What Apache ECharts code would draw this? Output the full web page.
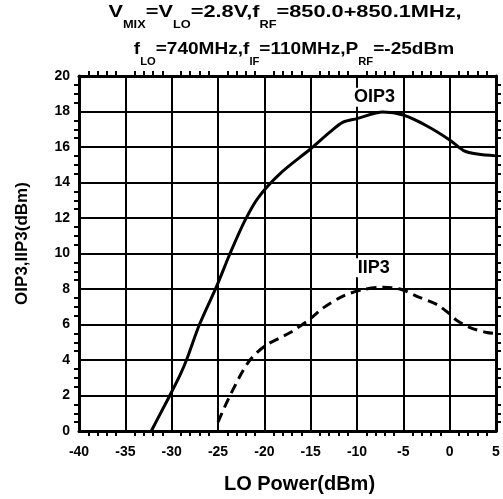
<!DOCTYPE html>
<html>
<head>
<meta charset="utf-8">
<script src="https://cdn.jsdelivr.net/npm/echarts@6/dist/echarts.min.js"></script>
<style>html,body{margin:0;padding:0;background:#fff}#c{width:503px;height:499px}</style>
</head>
<body>
<div id="c"></div>
<script>
// X axis: LO power (dBm)
var xTicks = [-40, -35, -30, -25, -20, -15, -10, -5, 0, 5];
var yTicks = [0, 2, 4, 6, 8, 10, 12, 14, 16, 18, 20];

var oip3X = [-32.2, -31.0, -30.2, -29.1, -28.4, -27.0, -25.15, -23.7, -22.1, -20.65, -18.3, -15.0, -12.9, -11.5, -10.0, -7.2, -5.0, -2.5, 0.0, 1.5, 3.0, 5.0];
var oip3Y = [0.0, 1.2, 2.0, 3.15, 4.0, 6.0, 8.15, 10.0, 11.85, 13.15, 14.5, 15.9, 16.85, 17.4, 17.6, 17.97, 17.8, 17.2, 16.4, 15.8, 15.6, 15.5];

var iip3X = [-25.0, -23.7, -21.7, -19.9, -17.2, -15.1, -13.6, -11.5, -9.5, -7.2, -5.2, -3.6, -1.4, 0.0, 0.7, 2.2, 4.0, 5.0];
var iip3Y = [0.5, 2.0, 3.9, 4.8, 5.55, 6.3, 6.95, 7.6, 7.95, 8.1, 7.97, 7.6, 7.13, 6.6, 6.26, 5.83, 5.55, 5.5];

var seriesNames = ['OIP3', 'IIP3'];
var seriesLabelPos = [[-8.1, 18.8], [-8.2, 9.2]];

function pairs(xs, ys) { return xs.map(function (x, i) { return [x, ys[i]]; }); }

var FONT = 'Liberation Sans, Arial, sans-serif';
var chart = echarts.init(document.getElementById('c'), null, { renderer: 'canvas' });

function axisCommon(showLabel) {
  return {
    axisLine: { show: true, onZero: false, lineStyle: { color: '#000', width: 3 } },
    axisTick: { show: false },
    minorTick: { show: true, inside: true, length: 5, lineStyle: { color: '#000', width: 2 } },
    axisLabel: { show: showLabel, color: '#000', fontWeight: 'bold', fontSize: 14, fontFamily: FONT },
    splitLine: { show: showLabel, lineStyle: { color: '#000', width: 2 } }
  };
}

var xMain = Object.assign(axisCommon(true), {
  type: 'value', position: 'bottom', min: xTicks[0], max: xTicks[xTicks.length - 1], interval: 5,
  name: 'LO Power(dBm)', nameLocation: 'middle', nameGap: 43,
  nameTextStyle: { color: '#000', fontWeight: 'bold', fontSize: 20, fontFamily: FONT, padding: [0, 0, 0, 24] }
});
xMain.minorTick.splitNumber = 5;
xMain.axisLabel.margin = 14;
var xTop = Object.assign(axisCommon(false), {
  type: 'value', position: 'top', min: xTicks[0], max: xTicks[xTicks.length - 1], interval: 5
});
xTop.minorTick.splitNumber = 5;

var yMain = Object.assign(axisCommon(true), {
  type: 'value', position: 'left', min: yTicks[0], max: yTicks[yTicks.length - 1], interval: 2,
  name: 'OIP3,IIP3(dBm)', nameLocation: 'middle', nameGap: 48,
  nameTextStyle: { color: '#000', fontWeight: 'bold', fontSize: 17, fontFamily: FONT, padding: [0, 0, 0, 20] }
});
yMain.minorTick.splitNumber = 4;
yMain.axisLabel.margin = 9;
var yRight = Object.assign(axisCommon(false), {
  type: 'value', position: 'right', min: yTicks[0], max: yTicks[yTicks.length - 1], interval: 2
});
yRight.minorTick.splitNumber = 4;

var titleRich = {
  m: { fontSize: 17, fontWeight: 'bold', fontFamily: FONT, fill: '#000', lineHeight: 36, verticalAlign: 'middle' },
  s: { fontSize: 10, fontWeight: 'bold', fontFamily: FONT, fill: '#000', lineHeight: 36, verticalAlign: 'bottom' }
};

function markFor(i) {
  return {
    symbol: 'rect',
    symbolSize: 1,
    silent: true,
    itemStyle: { color: 'rgba(0,0,0,0)' },
    label: {
      show: true, position: 'inside', formatter: seriesNames[i], color: '#000',
      fontWeight: 'bold', fontSize: 18, fontFamily: FONT,
      backgroundColor: '#fff', padding: [1, 2, 0, 2]
    },
    data: [{ coord: seriesLabelPos[i], value: seriesNames[i] }]
  };
}

chart.setOption({
  animation: false,
  backgroundColor: '#fff',
  grid: { left: 79, right: 7, top: 76, bottom: 62, containLabel: false },
  xAxis: [xMain, xTop],
  yAxis: [yMain, yRight],
  graphic: [
    {
      type: 'text', x: 285, y: -6, scaleX: 1.28, originX: 0, originY: 0,
      style: {
        text: '{m|V}{s|MIX}{m|=V}{s|LO}{m|=2.8V,f}{s|RF}{m|=850.0+850.1MHz,}',
        align: 'center', verticalAlign: 'top', rich: titleRich
      }
    },
    {
      type: 'text', x: 294, y: 31, scaleX: 1.12, originX: 0, originY: 0,
      style: {
        text: '{m|f}{s|LO}{m|=740MHz,f}{s|IF}{m|=110MHz,P}{s|RF}{m|=-25dBm}',
        align: 'center', verticalAlign: 'top', rich: titleRich
      }
    }
  ],
  series: [
    {
      name: seriesNames[0], type: 'line', xAxisIndex: 0, yAxisIndex: 0,
      data: pairs(oip3X, oip3Y), showSymbol: false, smooth: 0.3,
      lineStyle: { color: '#000', width: 3 },
      markPoint: markFor(0)
    },
    {
      name: seriesNames[1], type: 'line', xAxisIndex: 0, yAxisIndex: 0,
      data: pairs(iip3X, iip3Y), showSymbol: false, smooth: 0.3,
      lineStyle: { color: '#000', width: 3, type: [10, 6] },
      markPoint: markFor(1)
    }
  ]
});
</script>
</body>
</html>
